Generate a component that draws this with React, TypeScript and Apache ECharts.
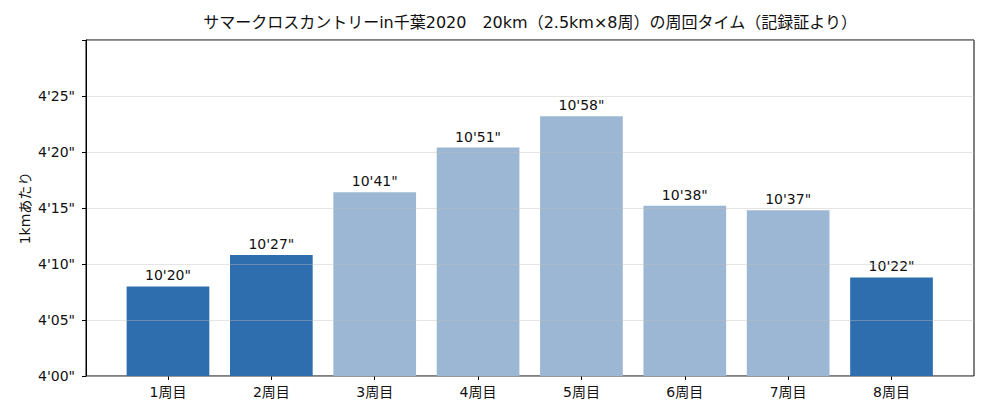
import React, { useEffect, useRef } from 'react';
import * as echarts from 'echarts';

const title = 'サマークロスカントリーin千葉2020　20km（2.5km×8周）の周回タイム（記録証より）';
const laps = ['1周目', '2周目', '3周目', '4周目', '5周目', '6周目', '7周目', '8周目'];
// 周回タイム（秒）: 10'20", 10'27", ...
const lapSeconds = [620, 627, 641, 651, 658, 638, 637, 622];
const lapKm = 2.5;
const yTicks = [240, 245, 250, 255, 260, 265, 270];

const FONT = "'DejaVu Sans', 'Noto Sans CJK JP', sans-serif";

const fmt = (sec: number) => {
  const m = Math.floor(sec / 60);
  const s = Math.round(sec - m * 60);
  return `${m}'${s < 10 ? '0' + s : s}"`;
};

const App = () => {
  const chartRef = useRef<HTMLDivElement>(null);

  useEffect(() => {
    const chart = echarts.init(chartRef.current, null, { renderer: 'svg' });
    const perKm = lapSeconds.map((v) => v / lapKm);

    chart.setOption({
      animation: false,
      textStyle: { fontFamily: FONT, color: '#111' },
      graphic: [
        {
          type: 'text',
          x: 530,
          y: 22,
          style: {
            text: title,
            align: 'center',
            verticalAlign: 'middle',
            font: `16px ${FONT}`,
            fill: '#111',
          },
        },
      ],
      grid: [
        { left: 86, top: 40, width: 888, height: 336, show: true, borderColor: '#000', borderWidth: 1, backgroundColor: 'transparent' },
        { left: 116.3, top: 40, width: 826.9, height: 336 },
      ],
      xAxis: [
        { type: 'value', gridIndex: 0, show: false, min: 0, max: 1 },
        {
          type: 'category',
          gridIndex: 1,
          data: laps,
          axisLine: { show: false },
          axisTick: { show: true, alignWithLabel: true, length: 4, lineStyle: { color: '#000' } },
          axisLabel: { fontSize: 14, color: '#111', fontFamily: FONT, margin: 9 },
        },
      ],
      yAxis: [
        {
          type: 'value',
          gridIndex: 0,
          min: yTicks[0],
          max: yTicks[yTicks.length - 1],
          interval: 5,
          z: 3,
          name: '1kmあたり',
          nameLocation: 'middle',
          nameGap: 54,
          nameMoveOverlap: false,
          nameTextStyle: { fontSize: 14, color: '#111', fontFamily: FONT },
          axisLine: { show: true, lineStyle: { color: '#000' } },
          axisTick: { show: true, length: 4, lineStyle: { color: '#000' } },
          axisLabel: {
            fontSize: 14,
            color: '#111',
            fontFamily: FONT,
            margin: 11,
            formatter: (v: number) => (v >= yTicks[yTicks.length - 1] ? '' : fmt(v)),
          },
          splitLine: { show: true, lineStyle: { color: 'rgba(190,190,190,0.4)', width: 1 } },
        },
        { type: 'value', gridIndex: 1, min: yTicks[0], max: yTicks[yTicks.length - 1], show: false },
      ],
      series: [
        {
          type: 'bar',
          xAxisIndex: 1,
          yAxisIndex: 1,
          barWidth: '80%',
          data: perKm.map((v, i) => ({
            value: v,
            itemStyle: { color: lapSeconds[i] < 630 ? '#2f6eae' : '#9cb7d4' },
          })),
          label: {
            show: true,
            position: 'top',
            distance: 4,
            fontSize: 14,
            color: '#111',
            fontFamily: FONT,
            formatter: (p: any) => fmt(lapSeconds[p.dataIndex]),
          },
        },
      ],
    });

    return () => {
      chart.dispose();
    };
  }, []);

  return (
    <div
      ref={chartRef}
      style={{ position: 'fixed', left: 0, top: 0, width: 990, height: 418, background: '#fff' }}
    />
  );
};

export default App;
